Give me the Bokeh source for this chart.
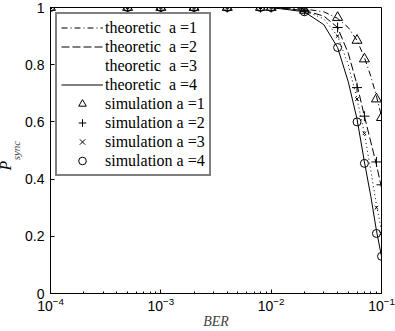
from bokeh.plotting import figure
from bokeh.models import Legend, LegendItem, Title, FixedTicker, Range1d
from bokeh.embed import file_html
from bokeh.resources import INLINE

ber_theory = [1e-4, 1e-3, 1e-2, 2e-2, 3e-2, 4e-2, 5e-2, 6e-2, 7e-2, 8e-2, 9e-2, 1e-1]
theory_a1 = [1, 1, 1, 0.995, 0.985, 0.962, 0.93, 0.885, 0.825, 0.76, 0.69, 0.62]
theory_a2 = [1, 1, 1, 0.99, 0.97, 0.93, 0.84, 0.73, 0.62, 0.53, 0.45, 0.37]
theory_a3 = [1, 1, 1, 0.99, 0.96, 0.90, 0.80, 0.68, 0.56, 0.43, 0.31, 0.22]
theory_a4 = [1, 1, 1, 0.985, 0.94, 0.86, 0.74, 0.61, 0.46, 0.34, 0.22, 0.13]

ber_sim = [1e-4, 5e-4, 1e-3, 2e-3, 4e-3, 8e-3, 1e-2, 2e-2, 4e-2, 6e-2, 7e-2, 9e-2, 1e-1]
sim_a1 = [1, 1, 1, 1, 1, 1, 1, 0.99, 0.965, 0.885, 0.82, 0.68, 0.615]
sim_a2 = [1, 1, 1, 1, 1, 1, 1, 0.99, 0.93, 0.72, 0.62, 0.46, 0.38]
sim_a3 = [1, 1, 1, 1, 1, 1, 1, 0.99, 0.90, 0.68, 0.56, 0.30, 0.21]
sim_a4 = [1, 1, 1, 1, 1, 1, 1, 0.985, 0.86, 0.60, 0.455, 0.21, 0.13]

y_ticks = [0, 0.2, 0.4, 0.6, 0.8, 1]

p = figure(width=395, height=331, x_axis_type="log",
           x_range=Range1d(1e-4, 1e-1), y_range=Range1d(0, 1),
           output_backend="svg", toolbar_location=None,
           min_border_left=47, min_border_right=14, min_border_top=7, min_border_bottom=36)
p.background_fill_color = "white"
p.border_fill_color = "white"
p.outline_line_color = "black"
p.outline_line_width = 1
p.grid.visible = False

tick_font = "Liberation Sans"
for ax in [p.xaxis[0], p.yaxis[0]]:
    ax.major_tick_in = 4
    ax.major_tick_out = 0
    ax.minor_tick_in = 2
    ax.minor_tick_out = 0
    ax.axis_line_color = "black"
    ax.major_label_text_font = tick_font
    ax.major_label_text_font_size = "14px"
    ax.major_label_text_color = "black"
    ax.major_label_standoff = 6

p.yaxis[0].ticker = FixedTicker(ticks=y_ticks)
p.yaxis[0].minor_tick_line_color = None
p.yaxis[0].major_label_overrides = {0: "0", 1: "1"}
p.yaxis[0].axis_label = "sync"
p.yaxis[0].axis_label_text_font = "Liberation Serif"
p.yaxis[0].axis_label_text_font_style = "italic"
p.yaxis[0].axis_label_text_font_size = "11px"
p.yaxis[0].axis_label_standoff = 0

p.xaxis[0].axis_label = "BER"
p.xaxis[0].axis_label_text_font = "Liberation Serif"
p.xaxis[0].axis_label_text_font_style = "italic"
p.xaxis[0].axis_label_text_font_size = "14px"
p.xaxis[0].axis_label_standoff = 0
p.xaxis[0].major_label_standoff = 3

main = Title(text="P", align="left", offset=123, standoff=-12,
             text_font="Liberation Serif", text_font_style="italic",
             text_font_size="16px", text_color="black")
p.add_layout(main, "left")

lw = 1
r1 = p.line(ber_theory, theory_a1, line_color="black", line_width=lw, line_dash="6 3 1 3")
r2 = p.line(ber_theory, theory_a2, line_color="black", line_width=lw, line_dash="8 3")
p.line(ber_theory, theory_a3, line_color="black", line_width=lw, line_dash="1 3")
r3 = p.line(ber_theory, theory_a3, line_color="black", line_alpha=0)
r4 = p.line(ber_theory, theory_a4, line_color="black", line_width=lw)

s1 = p.scatter(ber_sim, sim_a1, marker="triangle", size=10, fill_color=None, line_color="black")
s2 = p.scatter(ber_sim, sim_a2, marker="cross", size=10, line_color="black")
s3 = p.scatter(ber_sim, sim_a3, marker="x", size=5, line_color="black")
s4 = p.scatter(ber_sim, sim_a4, marker="circle", size=8, fill_color=None, line_color="black")

legend = Legend(items=[
    LegendItem(label="theoretic  a =1", renderers=[r1]),
    LegendItem(label="theoretic  a =2", renderers=[r2]),
    LegendItem(label="theoretic  a =3", renderers=[r3]),
    LegendItem(label="theoretic  a =4", renderers=[r4]),
    LegendItem(label="simulation a =1", renderers=[s1]),
    LegendItem(label="simulation a =2", renderers=[s2]),
    LegendItem(label="simulation a =3", renderers=[s3]),
    LegendItem(label="simulation a =4", renderers=[s4]),
], location="top_left")
legend.margin = 5
legend.padding = 4
legend.spacing = 0
legend.label_height = 19
legend.glyph_height = 19
legend.glyph_width = 42
legend.label_standoff = 2
legend.label_text_font = "Liberation Serif"
legend.label_text_font_size = "16px"
legend.label_text_color = "black"
legend.border_line_color = "black"
legend.border_line_width = 2
legend.background_fill_alpha = 1
p.add_layout(legend)

open("out.html", "w").write(file_html(p, INLINE))
